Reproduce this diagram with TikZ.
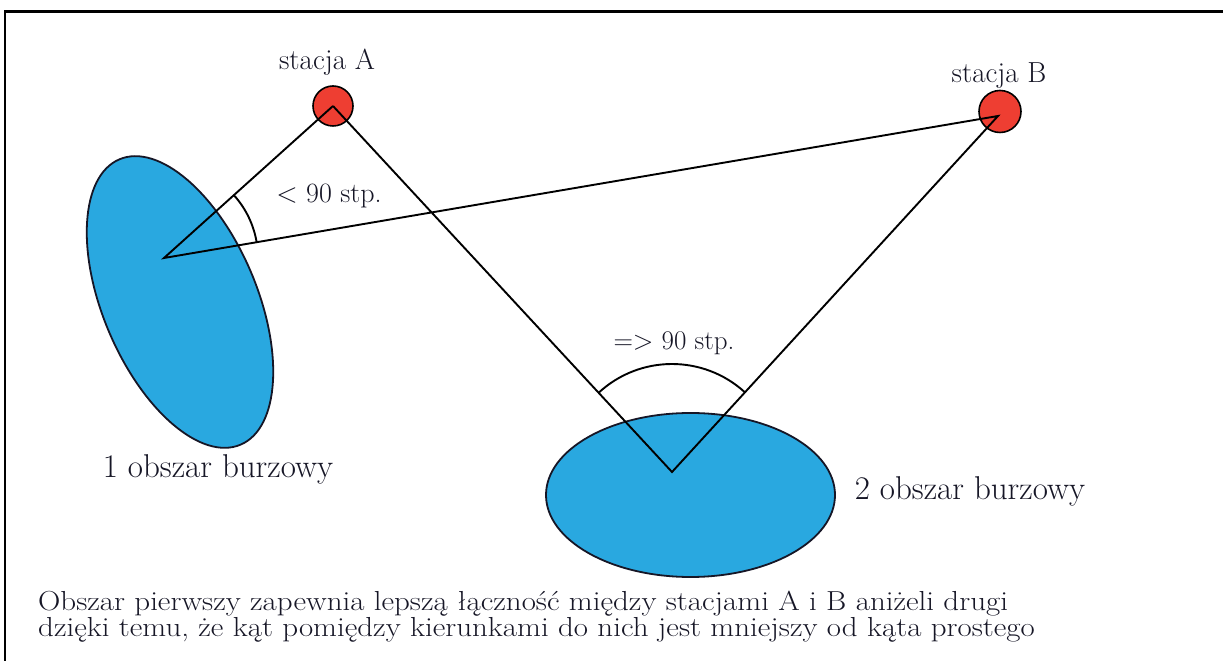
\documentclass[tikz,border=0pt]{standalone}
\usepackage{fontspec}
\usepackage{graphicx}
\definecolor{storm}{RGB}{41,168,224}
\definecolor{station}{RGB}{238,62,50}
\definecolor{ink}{RGB}{22,22,38}
\begin{document}
\begin{tikzpicture}[x=1pt,y=1pt,
  stationdot/.style={circle,draw=black,line width=1.6pt,fill=station,minimum size=40pt,inner sep=0pt},
  stormarea/.style={draw=ink,line width=1.8pt,fill=storm},
  ray/.style={draw=black,line width=1.9pt},
  anglearc/.style={draw=black,line width=1.9pt},
  lbl/.style={text=ink,inner sep=0pt,anchor=base,font=\fontsize{28}{32}\selectfont},
  note/.style={text=ink,inner sep=0pt,anchor=base west,font=\fontsize{27.5}{31}\selectfont}]
\useasboundingbox (0,0) rectangle (1223,661);
% frame
\draw[line width=3pt] (4,649) -- (1223,649);
\draw[line width=1.5pt] (5,649) -- (5,0);
% storm areas
\draw[stormarea,rotate around={23:(180,359)}] (180,359) ellipse (77 and 155);
\draw[stormarea] (690.5,166) ellipse (144.5 and 82);
% stations
\node[stationdot] (A) at (333,555) {};
\node[stationdot,minimum size=42pt] (B) at (1000,549.5) {};
\coordinate (Bend) at (998,545);
\coordinate (v1) at (164,403);
\coordinate (v2) at (672,189);
% rays
\draw[ray] (A.center) -- (v1) -- (Bend) -- (v2) -- (A.center);
% angle arcs
\draw[anglearc] ([shift={(9.7:94)}]v1) arc[start angle=9.7,end angle=41.8,radius=94];
\draw[anglearc] ([shift={(47.6:108)}]v2) arc[start angle=47.6,end angle=132.9,radius=108];
% labels
\node[lbl,font=\fontsize{29}{33}\selectfont] (la) at (327,591) {stacja A};
\node[lbl,font=\fontsize{29}{33}\selectfont] (lb) at (999,578) {stacja B};
\node[lbl] (ang1) at (329,458) {< 90 stp.};
\node[lbl,font=\fontsize{27}{31}\selectfont] (ang2) at (674,311) {=> 90 stp.};
\node[lbl,font=\fontsize{33}{37}\selectfont] (s1) at (218,183) {1 obszar burzowy};
\node[lbl,font=\fontsize{33}{37}\selectfont] (s2) at (970,161) {2 obszar burzowy};
\node[note] (n1) at (38,50) {\scalebox{1.125}[1]{Obszar pierwszy zapewnia lepszą łączność między stacjami A i B aniżeli drugi}};
\node[note] (n2) at (38,24) {\scalebox{1.125}[1]{dzięki temu, że kąt pomiędzy kierunkami do nich jest mniejszy od kąta prostego}};
\end{tikzpicture}
\end{document}
